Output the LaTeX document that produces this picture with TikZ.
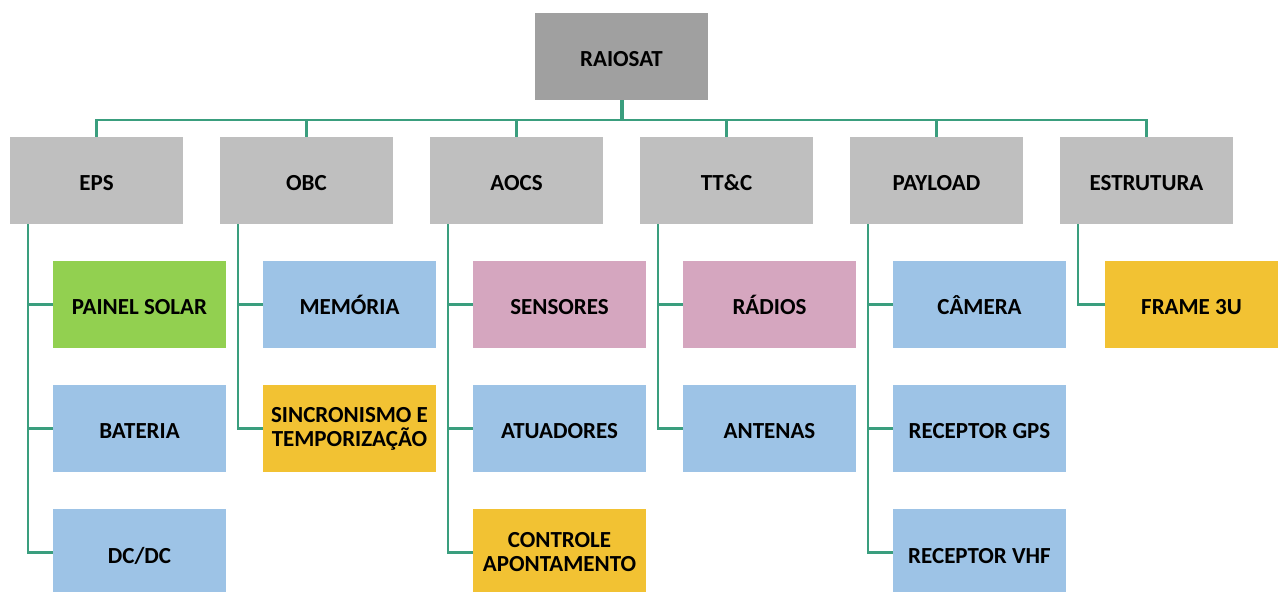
\documentclass[tikz,border=0pt]{standalone}
\usepackage{fontspec}
\setmainfont{Carlito}
\definecolor{topgray}{HTML}{A0A0A0}
\definecolor{subgray}{HTML}{BFBFBF}
\definecolor{solgreen}{HTML}{92D050}
\definecolor{partblue}{HTML}{9DC3E6}
\definecolor{partpink}{HTML}{D5A6BF}
\definecolor{partgold}{HTML}{F2C233}
\definecolor{linkteal}{HTML}{3A9E7E}
\begin{document}
\begin{tikzpicture}[x=0.5pt,y=-0.5pt,
  box/.style={minimum width=86.5pt,minimum height=43.5pt,inner sep=1pt,align=center,
    font=\bfseries\fontsize{11.5}{12}\selectfont},
  oneline/.style={box,text height=11pt,text depth=0.5pt,inner ysep=0pt},
  link/.style={draw=linkteal,line width=1.1pt}]
\useasboundingbox (0,0) rectangle (1279,592);
\clip (0,0) rectangle (1279,592);

% top
\node[name=raiosat,oneline,fill=topgray] at (621.5,56.5) {RAIOSAT};

% subsystems
\node[name=eps,oneline,fill=subgray] at (96.5,180.5) {EPS};
\node[name=obc,oneline,fill=subgray] at (306.5,180.5) {OBC};
\node[name=aocs,oneline,fill=subgray] at (516.5,180.5) {AOCS};
\node[name=ttc,oneline,fill=subgray] at (726.5,180.5) {TT\&C};
\node[name=payload,oneline,fill=subgray] at (936.5,180.5) {PAYLOAD};
\node[name=estrutura,oneline,fill=subgray] at (1146.5,180.5) {ESTRUTURA};

% parts
\node[name=painel,oneline,fill=solgreen] at (139.5,304.5) {PAINEL SOLAR};
\node[name=bateria,oneline,fill=partblue] at (139.5,428.5) {BATERIA};
\node[name=dcdc,oneline,fill=partblue] at (139.5,552.5) {DC/DC};
\node[name=memoria,oneline,fill=partblue] at (349.5,304.5) {MEMÓRIA};
\node[name=sincro,box,fill=partgold] at (349.5,428.5) {SINCRONISMO E\\TEMPORIZAÇÃO};
\node[name=sensores,oneline,fill=partpink] at (559.5,304.5) {SENSORES};
\node[name=atuadores,oneline,fill=partblue] at (559.5,428.5) {ATUADORES};
\node[name=controle,box,fill=partgold] at (559.5,552.5) {CONTROLE\\APONTAMENTO};
\node[name=radios,oneline,fill=partpink] at (769.5,304.5) {RÁDIOS};
\node[name=antenas,oneline,fill=partblue] at (769.5,428.5) {ANTENAS};
\node[name=camera,oneline,fill=partblue] at (979.5,304.5) {CÂMERA};
\node[name=gps,oneline,fill=partblue] at (979.5,428.5) {RECEPTOR GPS};
\node[name=vhf,oneline,fill=partblue] at (979.5,552.5) {RECEPTOR VHF};
\node[name=frame,oneline,fill=partgold] at (1191.5,304.5) {FRAME 3U};

\draw[link,line width=2pt] (raiosat.south) -- ++(0,20);
\draw[link] (raiosat.south) -- ++(0,20) -| (eps.north);
\draw[link] (raiosat.south) -- ++(0,20) -| (obc.north);
\draw[link] (raiosat.south) -- ++(0,20) -| (aocs.north);
\draw[link] (raiosat.south) -- ++(0,20) -| (ttc.north);
\draw[link] (raiosat.south) -- ++(0,20) -| (payload.north);
\draw[link] (raiosat.south) -- ++(0,20) -| (estrutura.north);

\draw[link] ([xshift=9pt]eps.south west) |- (painel.west);
\draw[link] ([xshift=9pt]eps.south west) |- (bateria.west);
\draw[link] ([xshift=9pt]eps.south west) |- (dcdc.west);
\draw[link] ([xshift=9pt]obc.south west) |- (memoria.west);
\draw[link] ([xshift=9pt]obc.south west) |- (sincro.west);
\draw[link] ([xshift=9pt]aocs.south west) |- (sensores.west);
\draw[link] ([xshift=9pt]aocs.south west) |- (atuadores.west);
\draw[link] ([xshift=9pt]aocs.south west) |- (controle.west);
\draw[link] ([xshift=9pt]ttc.south west) |- (radios.west);
\draw[link] ([xshift=9pt]ttc.south west) |- (antenas.west);
\draw[link] ([xshift=9pt]payload.south west) |- (camera.west);
\draw[link] ([xshift=9pt]payload.south west) |- (gps.west);
\draw[link] ([xshift=9pt]payload.south west) |- (vhf.west);
\draw[link] ([xshift=9pt]estrutura.south west) |- (frame.west);
\end{tikzpicture}
\end{document}
